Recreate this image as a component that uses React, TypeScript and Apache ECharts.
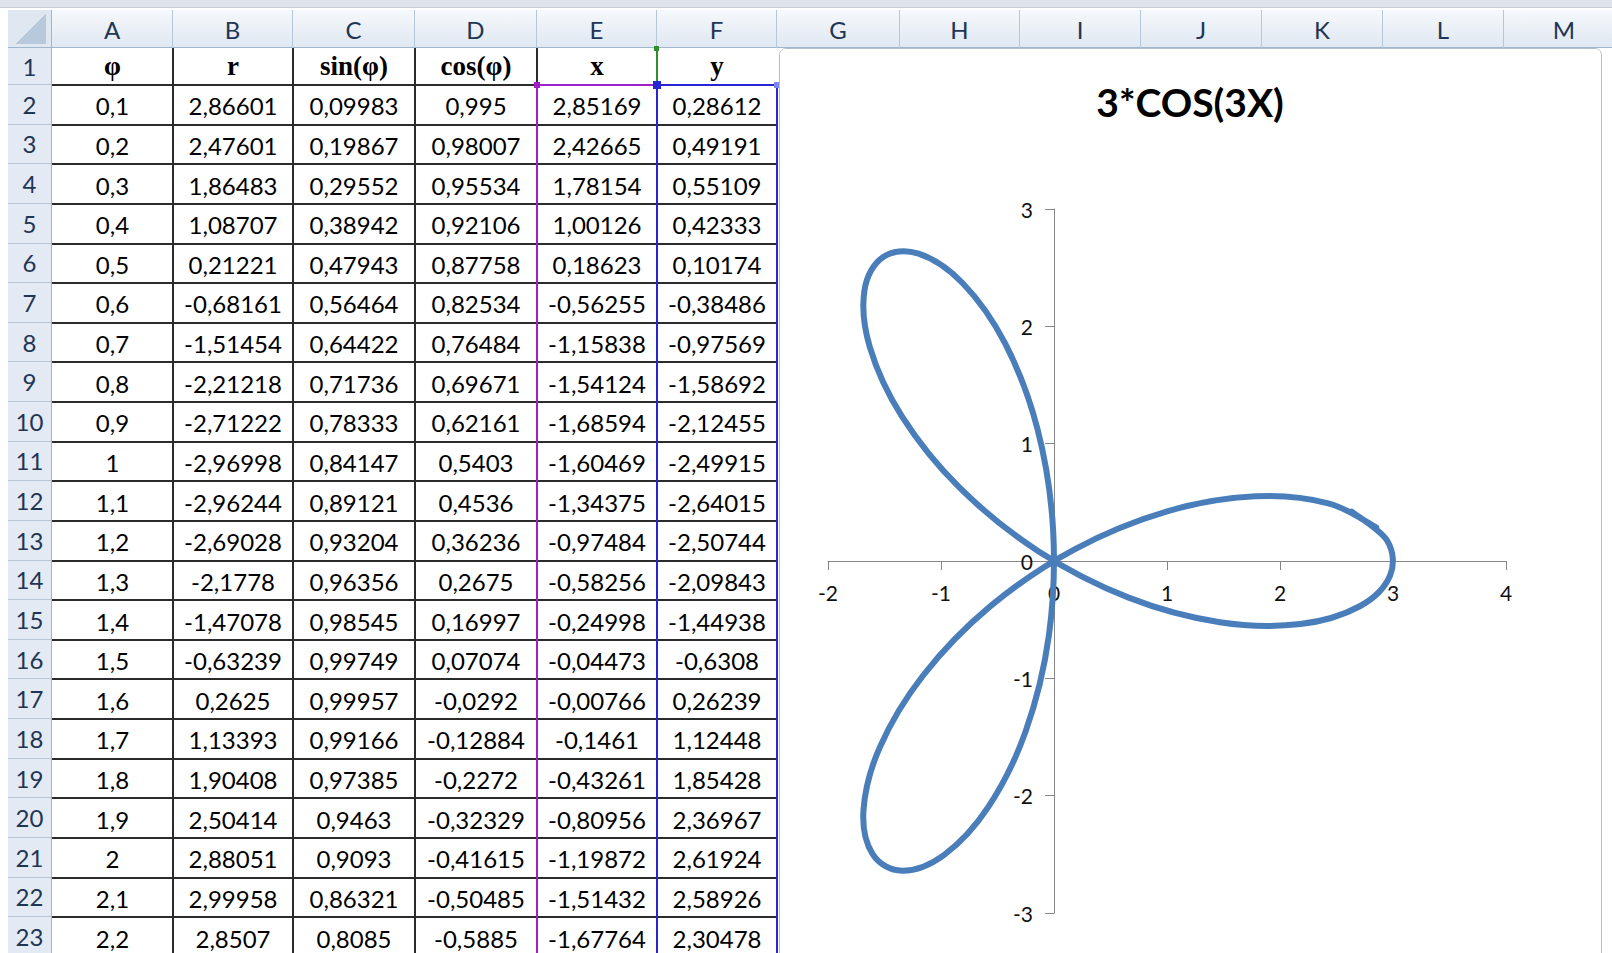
import React, { useEffect, useRef } from "react";
import * as echarts from "echarts";

// Worksheet columns A..F (rows 2..23)
const phi = [0.1, 0.2, 0.3, 0.4, 0.5, 0.6, 0.7, 0.8, 0.9, 1, 1.1, 1.2, 1.3, 1.4, 1.5, 1.6, 1.7, 1.8, 1.9, 2, 2.1, 2.2];
const rVals = [2.86601, 2.47601, 1.86483, 1.08707, 0.21221, -0.68161, -1.51454, -2.21218, -2.71222, -2.96998, -2.96244, -2.69028, -2.1778, -1.47078, -0.63239, 0.2625, 1.13393, 1.90408, 2.50414, 2.88051, 2.99958, 2.8507];
const sinVals = [0.09983, 0.19867, 0.29552, 0.38942, 0.47943, 0.56464, 0.64422, 0.71736, 0.78333, 0.84147, 0.89121, 0.93204, 0.96356, 0.98545, 0.99749, 0.99957, 0.99166, 0.97385, 0.9463, 0.9093, 0.86321, 0.8085];
const cosVals = [0.995, 0.98007, 0.95534, 0.92106, 0.87758, 0.82534, 0.76484, 0.69671, 0.62161, 0.5403, 0.4536, 0.36236, 0.2675, 0.16997, 0.07074, -0.0292, -0.12884, -0.2272, -0.32329, -0.41615, -0.50485, -0.5885];
// x and y for the whole column (rows 2..34), which the scatter chart plots
const xVals = [2.85169, 2.42665, 1.78154, 1.00126, 0.18623, -0.56255, -1.15838, -1.54124, -1.68594, -1.60469, -1.34375, -0.97484, -0.58256, -0.24998, -0.04473, -0.00766, -0.1461, -0.43261, -0.80956, -1.19872, -1.51432, -1.67764, -1.63052, -1.34578, -0.83313, -0.13872, 0.66053, 1.46786, 2.1807, 2.70603, 2.9741, 2.94902, 2.63419];
const yVals = [0.28612, 0.49191, 0.55109, 0.42333, 0.10174, -0.38486, -0.97569, -1.58692, -2.12455, -2.49915, -2.64015, -2.50744, -2.09843, -1.44938, -0.6308, 0.26239, 1.12448, 1.85428, 2.36967, 2.61924, 2.58926, 2.30478, 1.8249, 1.23276, 0.62237, 0.08345, -0.31225, -0.52187, -0.53734, -0.38574, -0.12377, 0.17243, 0.42081];

const headers = ["φ", "r", "sin(φ)", "cos(φ)", "x", "y"];
const colLetters = ["A", "B", "C", "D", "E", "F", "G", "H", "I", "J", "K", "L", "M"];
const chartTitle = "3*COS(3X)";

// sheet geometry
const COL_EDGES = [52, 173, 293, 415, 537, 657, 777, 900, 1020, 1141, 1262, 1383, 1504, 1625];
const HEAD_TOP = 10;
const ROW1_TOP = 48;
const ROW2_TOP = 85;
const ROW_H = 39.63;
const ROW_COUNT = 23;

const rowTop = (row: number) => (row === 1 ? ROW1_TOP : ROW2_TOP + (row - 2) * ROW_H);
const rowBottom = (row: number) => (row === 1 ? ROW2_TOP : ROW2_TOP + (row - 1) * ROW_H);

const fmt = (v: number) => String(v).replace(".", ",");

const CELL_FONT = "Lato, 'Open Sans', sans-serif";
const HEAD_TEXT = "#1f3554";
const GRID_LIGHT = "#9eb6ce";

// plot geometry inside the chart object
const GRID_LEFT = 48;
const GRID_TOP = 160;
const GRID_W = 678;
const GRID_H = 704;
const X_MIN = -2;
const X_MAX = 4;
const Y_MIN = -3;
const Y_MAX = 3;

// smoothed curve through the points (Catmull-Rom as cubic Bezier), in pixel space
function smoothPath(pts: number[][]) {
  const n = pts.length;
  let d = `M${pts[0][0]},${pts[0][1]}`;
  for (let i = 0; i < n - 1; i++) {
    const p0 = pts[Math.max(0, i - 1)];
    const p1 = pts[i];
    const p2 = pts[i + 1];
    const p3 = pts[Math.min(n - 1, i + 2)];
    const c1x = p1[0] + (p2[0] - p0[0]) / 6;
    const c1y = p1[1] + (p2[1] - p0[1]) / 6;
    const c2x = p2[0] - (p3[0] - p1[0]) / 6;
    const c2y = p2[1] - (p3[1] - p1[1]) / 6;
    d += ` C${c1x},${c1y} ${c2x},${c2y} ${p2[0]},${p2[1]}`;
  }
  return d;
}

function Chart() {
  const ref = useRef<HTMLDivElement>(null);
  useEffect(() => {
    if (!ref.current) return;
    const chart = echarts.init(ref.current, undefined, { renderer: "svg" });
    const points = xVals.map((x, i) => [x, yVals[i]]);
    const axisCommon = {
      type: "value",
      interval: 1,
      axisLine: { onZero: false, lineStyle: { color: "#868686", width: 1 } },
      axisTick: { show: true, inside: false, length: 9, lineStyle: { color: "#868686" } },
      axisLabel: { margin: 21, fontSize: 21, fontFamily: CELL_FONT, color: "#111" },
      splitLine: { show: false },
    };
    chart.setOption({
      animation: false,
      backgroundColor: "#ffffff",
      title: {
        text: chartTitle,
        left: "center",
        top: 28,
        textStyle: { fontFamily: CELL_FONT, fontWeight: "bold", fontSize: 39, color: "#000" },
      },
      grid: { left: GRID_LEFT, top: GRID_TOP, width: GRID_W, height: GRID_H, containLabel: false },
      xAxis: {
        ...axisCommon,
        min: X_MIN,
        max: X_MAX,
        position: "bottom",
        // axis crosses the vertical one at y = 0
        offset: -GRID_H * (0 - Y_MIN) / (Y_MAX - Y_MIN),
      },
      yAxis: {
        ...axisCommon,
        min: Y_MIN,
        max: Y_MAX,
        position: "left",
        // axis crosses the horizontal one at x = 0
        offset: -GRID_W * (0 - X_MIN) / (X_MAX - X_MIN),
      },
      series: [
        {
          type: "custom",
          name: "y",
          coordinateSystem: "cartesian2d",
          encode: { x: 0, y: 1 },
          data: points,
          renderItem: (params: any, api: any) => {
            if (params.dataIndex !== 0) return null;
            const px = points.map((p) => api.coord(p));
            return {
              type: "path",
              shape: { pathData: smoothPath(px) },
              style: { stroke: "#4a7ebb", lineWidth: 6, fill: "none", lineJoin: "round", lineCap: "round" },
            };
          },
        },
      ],
    });
    return () => chart.dispose();
  }, []);
  return <div ref={ref} style={{ position: "absolute", left: 0, top: 0, width: 820, height: 928 }} />;
}

const abs = (left: number, top: number, width: number, height: number, extra: React.CSSProperties = {}): React.CSSProperties => ({
  position: "absolute",
  left,
  top,
  width,
  height,
  ...extra,
});

export default function App() {
  const els: React.ReactNode[] = [];

  // column headers
  els.push(
    <div key="headbg" style={abs(8, HEAD_TOP, 1604, ROW1_TOP - HEAD_TOP, { background: "linear-gradient(#f6f9fc, #dfe7f1)", borderBottom: `1px solid ${GRID_LIGHT}`, boxSizing: "border-box" })} />
  );
  colLetters.forEach((c, i) => {
    const l = COL_EDGES[i];
    const w = COL_EDGES[i + 1] - l;
    els.push(
      <div key={"ch" + c} style={abs(l, HEAD_TOP, w, ROW1_TOP - HEAD_TOP, { display: "flex", alignItems: "center", justifyContent: "center", fontFamily: CELL_FONT, fontSize: 24, color: HEAD_TEXT, borderRight: "1px solid #b5c6d8", boxSizing: "border-box" })}>
        {c}
      </div>
    );
  });
  // corner cell
  els.push(
    <div key="corner" style={abs(8, HEAD_TOP, 44, ROW1_TOP - HEAD_TOP, { background: "#dfe7f1", borderRight: `1px solid ${GRID_LIGHT}`, borderBottom: `1px solid ${GRID_LIGHT}`, boxSizing: "border-box" })}>
      <div style={abs(6, 4, 32, 30, { background: "linear-gradient(135deg, transparent 50%, #b9c9dc 50%)" })} />
    </div>
  );

  // row headers
  for (let r = 1; r <= ROW_COUNT; r++) {
    const t = rowTop(r);
    const h = rowBottom(r) - t;
    els.push(
      <div key={"rh" + r} style={abs(8, t, 44, h, { display: "flex", alignItems: "center", justifyContent: "center", background: "#e3eaf3", fontFamily: CELL_FONT, fontSize: 24, color: HEAD_TEXT, borderBottom: "1px solid #b5c6d8", borderRight: `1px solid ${GRID_LIGHT}`, boxSizing: "border-box" })}>
        {r}
      </div>
    );
  }

  // header row (row 1)
  headers.forEach((hText, i) => {
    const l = COL_EDGES[i];
    const w = COL_EDGES[i + 1] - l;
    els.push(
      <div key={"h" + i} style={abs(l, ROW1_TOP, w, ROW2_TOP - ROW1_TOP, { display: "flex", alignItems: "center", justifyContent: "center", fontFamily: "'Liberation Serif', 'DejaVu Serif', serif", fontWeight: "bold", fontSize: 27, color: "#000" })}>
        {hText}
      </div>
    );
  });

  // data rows
  const columns = [phi, rVals, sinVals, cosVals, xVals, yVals];
  for (let k = 0; k < phi.length; k++) {
    const row = k + 2;
    const t = rowTop(row);
    const h = rowBottom(row) - t;
    columns.forEach((col, i) => {
      const l = COL_EDGES[i];
      const w = COL_EDGES[i + 1] - l;
      els.push(
        <div key={`c${row}_${i}`} style={abs(l, t + 1, w, h, { display: "flex", alignItems: "center", justifyContent: "center", fontFamily: CELL_FONT, fontSize: 24, color: "#000" })}>
          {fmt(col[k])}
        </div>
      );
    });
  }

  // table borders
  for (let i = 1; i <= 5; i++) {
    const x = COL_EDGES[i];
    els.push(<div key={"v" + i} style={abs(x - 1, ROW1_TOP, 2, 953 - ROW1_TOP, { background: "#2b2b2b" })} />);
  }
  for (let r = 2; r <= ROW_COUNT; r++) {
    const y = rowTop(r);
    els.push(<div key={"hl" + r} style={abs(COL_EDGES[0], y - 1, COL_EDGES[6] - COL_EDGES[0], 2, { background: "#2b2b2b" })} />);
  }

  // highlighted chart source ranges (x in E, y in F, series name in F1)
  const purple = "#a020c8";
  const blue = "#2626d6";
  const green = "#2f8f2f";
  els.push(<div key="pv" style={abs(536, ROW2_TOP, 2, 953 - ROW2_TOP, { background: purple })} />);
  els.push(<div key="pt" style={abs(537, ROW2_TOP - 1, 120, 2, { background: purple })} />);
  els.push(<div key="bv1" style={abs(656, ROW2_TOP, 2, 953 - ROW2_TOP, { background: blue })} />);
  els.push(<div key="bv2" style={abs(776, ROW2_TOP, 2, 953 - ROW2_TOP, { background: blue })} />);
  els.push(<div key="bt" style={abs(657, ROW2_TOP - 1, 120, 2, { background: blue })} />);
  els.push(<div key="gv" style={abs(656, ROW1_TOP, 2, ROW2_TOP - ROW1_TOP, { background: green })} />);
  els.push(<div key="hp" style={abs(534, ROW2_TOP - 3, 6, 6, { background: purple })} />);
  els.push(<div key="hb" style={abs(653, ROW2_TOP - 4, 8, 8, { background: blue })} />);
  els.push(<div key="hg" style={abs(654, ROW1_TOP - 2, 5, 5, { background: green })} />);
  els.push(<div key="hlb" style={abs(774, ROW2_TOP - 3, 6, 6, { background: "#7f86f0" })} />);

  return (
    <div style={{ position: "fixed", left: 0, top: 0, width: 1612, height: 953, overflow: "hidden", background: "#fff" }}>
      <div style={abs(0, 0, 1612, 8, { background: "#dfe4ea", borderBottom: "1px solid #c6ced8", boxSizing: "border-box" })} />
      {els}
      <div style={abs(779, 48, 823, 930, { border: "1px solid #b4bfcc", borderRadius: 7, background: "#fff", boxSizing: "border-box", overflow: "hidden" })}>
        <Chart />
      </div>
    </div>
  );
}
